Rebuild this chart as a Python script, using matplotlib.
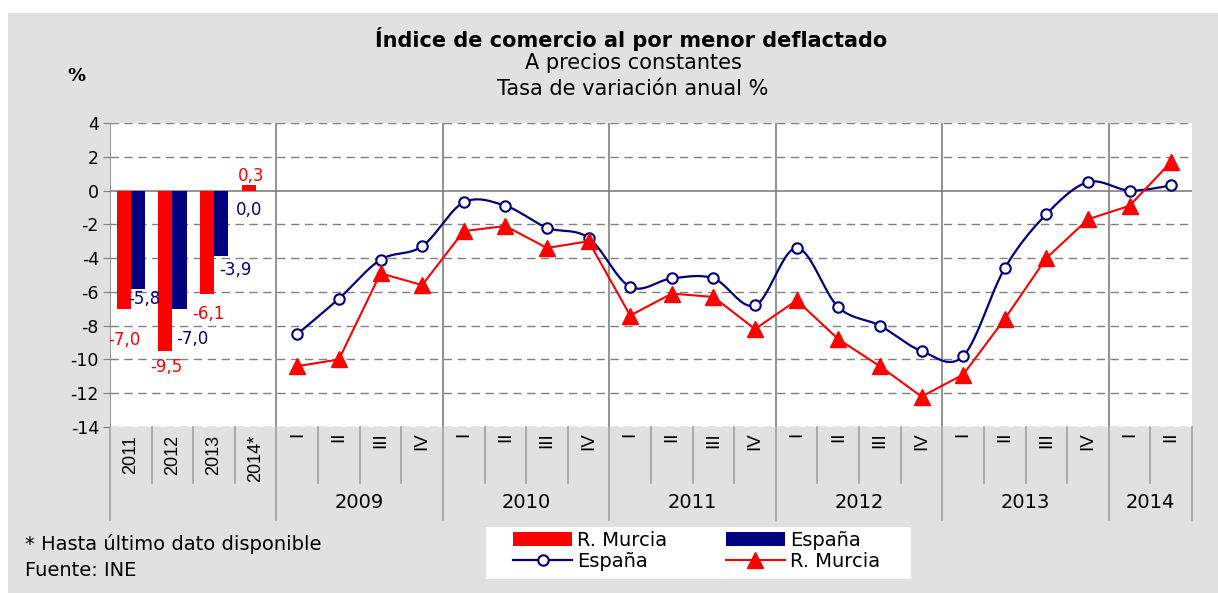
import numpy as np
import matplotlib
matplotlib.use("Agg")
import matplotlib.pyplot as plt
from matplotlib.patches import Rectangle, Patch
from matplotlib.lines import Line2D
from matplotlib.transforms import blended_transform_factory

plt.rcParams['font.family'] = ['DejaVu Sans']
NARROW = ['Liberation Sans', 'DejaVu Sans']

# ---------------- data ----------------
annual_labels = ["2011", "2012", "2013", "2014*"]
murcia_annual = [-7.0, -9.5, -6.1, 0.3]
espana_annual = [-5.8, -7.0, -3.9, 0.0]

quarter_labels = ["I", "II", "III", "IV"] * 5 + ["I", "II"]
years = ["2009", "2010", "2011", "2012", "2013", "2014"]
quarters_per_year = [4, 4, 4, 4, 4, 2]
espana_q = [-8.5, -6.4, -4.1, -3.3,
            -0.7, -0.9, -2.2, -2.8,
            -5.7, -5.2, -5.2, -6.8,
            -3.4, -6.9, -8.0, -9.5,
            -9.8, -4.6, -1.4, 0.5,
            0.0, 0.3]
murcia_q = [-10.4, -10.0, -4.9, -5.6,
            -2.4, -2.1, -3.4, -3.0,
            -7.4, -6.1, -6.3, -8.2,
            -6.5, -8.8, -10.4, -12.2,
            -10.9, -7.6, -4.0, -1.7,
            -0.9, 1.7]

RED = "#FF0000"
NAVY = "#000080"
GRID = "#808080"
BG = "#e1e1e1"

W, H = 1218, 593
fig = plt.figure(figsize=(W / 100, H / 100), dpi=100)
fig.patch.set_facecolor(BG)
fig.add_artist(Rectangle((0, 1 - 13 / H), 1, 13 / H, transform=fig.transFigure,
                         facecolor="white", edgecolor="none", zorder=-5))
fig.add_artist(Rectangle((0, 0), 8 / W, 1, transform=fig.transFigure,
                         facecolor="white", edgecolor="none", zorder=-5))


def yf(px):
    return 1 - px / H


ax = fig.add_axes([110 / W, yf(427), (1192 - 110) / W, (427 - 123) / H])
ax.set_facecolor("white")
n_annual = len(annual_labels)
n_total = n_annual + len(quarter_labels)
ax.set_xlim(-0.5, n_total - 0.5)
ax.set_ylim(-14, 4)
for s in ax.spines.values():
    s.set_visible(False)

yticks = np.arange(-14, 5, 2)
ax.set_yticks(yticks)
ax.set_yticklabels([str(v) for v in yticks])
ax.set_xticks([])
ax.tick_params(axis="y", length=5, color=GRID, labelsize=12.5, pad=3)

for v in yticks:
    if v == 0:
        ax.axhline(v, color=GRID, lw=1.2, zorder=1)
    else:
        ax.axhline(v, color=GRID, lw=1, ls=(0, (6, 4)), zorder=1)

# year boundaries
bounds = [-0.5, n_annual - 0.5]
acc = n_annual
for q in quarters_per_year:
    acc += q
    bounds.append(acc - 0.5)
for b in bounds[:-1]:
    ax.axvline(b, color=GRID, lw=1.2, zorder=1)

# bars
xa = np.arange(n_annual)
bw = 0.34
ax.bar(xa - bw / 2, murcia_annual, width=bw, color=RED, zorder=3)
ax.bar(xa + bw / 2, espana_annual, width=bw, color=NAVY, zorder=3)


def fmt(v):
    return f"{v:.1f}".replace(".", ",")


murcia_off = [(1, -31), (1, -16), (1.5, -20), (2.4, 9.5)]
espana_off = [(6, -10), (13, -30), (14.5, -13.5), (-13.6, -19.5)]
for i in range(n_annual):
    ax.annotate(fmt(murcia_annual[i]), (xa[i] - bw / 2, murcia_annual[i]),
                xytext=murcia_off[i], textcoords="offset pixels",
                ha="center", va="center", color=RED, fontsize=12, zorder=5)
    ax.annotate(fmt(espana_annual[i]), (xa[i] + bw / 2, espana_annual[i]),
                xytext=espana_off[i], textcoords="offset pixels",
                ha="center", va="center", color=NAVY, fontsize=12, zorder=5)

# lines
xq = np.arange(n_annual, n_total)


def catmull(x, y, n=24):
    x = np.asarray(x, float)
    y = np.asarray(y, float)
    P = np.column_stack([x, y])
    P = np.vstack([P[0], P, P[-1]])
    out = []
    t = np.linspace(0, 1, n)[:, None]
    for i in range(1, len(P) - 2):
        p0, p1, p2, p3 = P[i - 1], P[i], P[i + 1], P[i + 2]
        seg = 0.5 * (2 * p1 + (-p0 + p2) * t + (2 * p0 - 5 * p1 + 4 * p2 - p3) * t ** 2
                     + (-p0 + 3 * p1 - 3 * p2 + p3) * t ** 3)
        out.append(seg if i == 1 else seg[1:])
    out = np.vstack(out)
    return out[:, 0], out[:, 1]


sx, sy = catmull(xq, espana_q)
ax.plot(sx, sy, color=NAVY, lw=1.6, zorder=4)
ax.plot(xq, espana_q, ls="none", marker="o", ms=7.5, mfc="white", mec=NAVY, mew=1.5, zorder=4)
ax.plot(xq, murcia_q, color=RED, lw=1.5, marker="^", ms=11, mfc=RED, mec=RED, zorder=5)

# category axis below
tr = blended_transform_factory(ax.transData, fig.transFigure)
major = set(bounds)
for b in [i - 0.5 for i in range(n_total + 1)]:
    ybot = 520 if b in major else 483
    fig.add_artist(Line2D([b, b], [yf(427), yf(ybot)], transform=tr, color="#a0a0a0", lw=1.2))

for i, lab in enumerate(annual_labels):
    fig.text(i, yf(435), lab, transform=tr, rotation=90, ha="center", va="top",
             fontsize=13, family=NARROW)
for j, lab in enumerate(quarter_labels):
    fig.text(n_annual + j, yf(432), lab, transform=tr, rotation=90, ha="center", va="top",
             fontsize=13.5, family=NARROW)
start = n_annual
for yr, q in zip(years, quarters_per_year):
    fig.text(start + (q - 1) / 2, yf(503), yr, transform=tr, ha="center", va="center", fontsize=14)
    start += q

# titles
fig.text(631 / W, yf(39), "Índice de comercio al por menor deflactado", ha="center", va="center",
         fontsize=15, fontweight="bold")
fig.text(633 / W, yf(63), "A precios constantes", ha="center", va="center", fontsize=15)
fig.text(633 / W, yf(89), "Tasa de variación anual %", ha="center", va="center", fontsize=15)
fig.text(76 / W, yf(76), "%", ha="center", va="center", fontsize=13, fontweight="bold")

fig.text(25 / W, yf(544), "* Hasta último dato disponible", ha="left", va="center", fontsize=14)
fig.text(25 / W, yf(570), "Fuente: INE", ha="left", va="center", fontsize=14)

# legend
fig.add_artist(Rectangle((486 / W, yf(579)), (911 - 486) / W, 52 / H, transform=fig.transFigure,
                         facecolor="white", edgecolor="none", zorder=1))
handles = [Patch(facecolor=RED, edgecolor="none"),
           Line2D([], [], color=NAVY, lw=1.6, marker="o", ms=7.5, mfc="white", mec=NAVY, mew=1.5),
           Patch(facecolor=NAVY, edgecolor="none"),
           Line2D([], [], color=RED, lw=1.5, marker="^", ms=11, mfc=RED, mec=RED)]
labels = ["R. Murcia", "España", "España", "R. Murcia"]
leg = fig.legend(handles, labels, ncol=2, loc="center left", bbox_to_anchor=(513 / W, yf(551)),
                 frameon=False, fontsize=14, handlelength=3.05, handleheight=0.7,
                 columnspacing=3.0, borderpad=0, labelspacing=0.1, handletextpad=0.26,
                 borderaxespad=0)
leg.set_zorder(2)

fig.savefig("out.png", dpi=100, facecolor=fig.get_facecolor())
